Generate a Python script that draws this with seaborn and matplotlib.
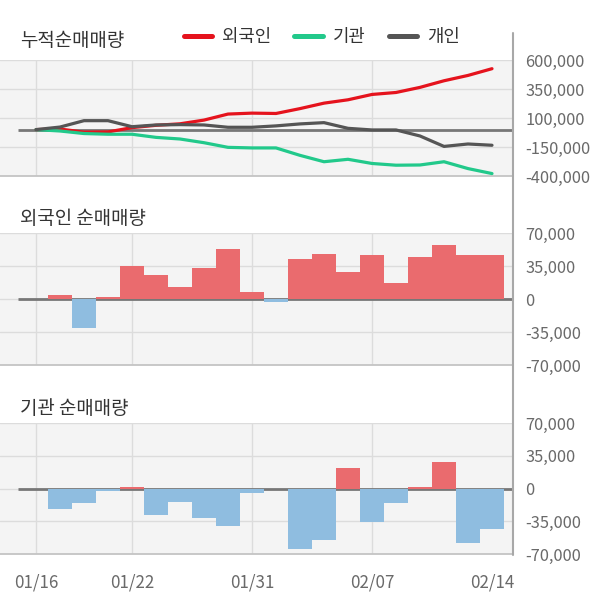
import matplotlib
matplotlib.use("Agg")
import matplotlib.pyplot as plt
import matplotlib.ticker as mticker
from matplotlib.lines import Line2D
import numpy as np
import pandas as pd
import seaborn as sns

# ---------------------------------------------------------------------------
# Data
# ---------------------------------------------------------------------------
DATE_LABELS = ["01/16", "01/22", "01/31", "02/07", "02/14"]
DATE_TICKS = [0, 4, 9, 14, 19]
GRID_POS = [0, 4, 9, 14]

positions = list(range(20))

# cumulative net buying (shares)
cum_foreign = [0, 5000, -22000, -20000, 17000, 37000, 50000, 82000, 134000, 142000,
               139000, 181000, 228000, 257000, 303000, 320000, 364000, 421000, 467000, 525000]
cum_inst = [0, -12000, -34000, -40000, -40000, -67000, -81000, -113000, -153000, -158000,
            -158000, -222000, -277000, -256000, -292000, -307000, -305000, -277000, -336000, -379000]
cum_indiv = [0, 22000, 77000, 77000, 25000, 40000, 43000, 40000, 20000, 20000,
             32000, 49000, 60000, 11000, -3000, -3000, -55000, -145000, -124000, -135000]

# daily net buying, positions 1..19
bar_pos = list(range(1, 20))
daily_foreign = [4500, -30800, 2500, 35000, 25500, 13000, 33000, 53000, 7700, -3500,
                 42000, 48000, 29000, 46500, 17000, 44500, 57000, 46500, 46500]
daily_inst = [-22400, -15000, -2500, 1400, -28700, -14000, -31900, -40000, -4500, 0,
              -64400, -55000, 21400, -36000, -15000, 1400, 28000, -58500, -43400]

TOP_TICKS = [600000, 350000, 100000, -150000, -400000]
BAR_TICKS = [70000, 35000, 0, -35000, -70000]

# ---------------------------------------------------------------------------
# Style
# ---------------------------------------------------------------------------
C = {
    "red": "#e5131d",
    "green": "#22c98b",
    "gray": "#555555",
    "pos": "#ea6b6e",
    "neg": "#8fbde0",
    "bg": "#f4f4f4",
    "grid": "#dcdcdc",
    "zero": "#777777",
    "text": "#333333",
    "tick": "#6a6a6a",
}

sns.set_style("white")
plt.rcParams["font.family"] = ["Noto Sans CJK KR", "DejaVu Sans"]

W, H = 600, 604
fig = plt.figure(figsize=(W / 100, H / 100), dpi=100)


def fy(y):
    return 1 - y / H


def make_ax(top, bottom):
    return fig.add_axes([0, fy(bottom), 513 / W, (bottom - top) / H])


XLIM = (-1.5, 19.875)
fmt = mticker.FuncFormatter(lambda v, _: f"{int(v):,}")


def style_ax(ax, ylim, yticks, show_x=False):
    ax.set_facecolor(C["bg"])
    ax.set_xlim(*XLIM)
    ax.set_ylim(*ylim)
    for s in ["top", "left", "right"]:
        ax.spines[s].set_visible(False)
    ax.spines["bottom"].set_color("#c4c4c4")
    ax.spines["bottom"].set_linewidth(1.3)
    for v in yticks:
        ax.axhline(v, color=C["grid"], lw=1, zorder=0)
    for p in GRID_POS:
        ax.axvline(p, color=C["grid"], lw=1, zorder=0)
    ax.hlines(0, -0.75, XLIM[1], color=C["zero"], lw=2, zorder=1)
    ax.yaxis.tick_right()
    ax.set_yticks(yticks)
    ax.yaxis.set_major_formatter(fmt)
    ax.tick_params(axis="y", length=0, pad=9, labelsize=11.8, labelcolor=C["tick"])
    ax.set_xticks(DATE_TICKS)
    if show_x:
        ax.set_xticklabels(DATE_LABELS)
        ax.tick_params(axis="x", length=0, pad=14, labelsize=12.2, labelcolor=C["tick"])
    else:
        ax.set_xticklabels([])
        ax.tick_params(axis="x", length=0)
    ax.set_xlabel("")
    ax.set_ylabel("")


# ---------------------------------------------------------------------------
# Panel 1 — cumulative lines
# ---------------------------------------------------------------------------
ax1 = make_ax(60, 176)
line_df = pd.DataFrame({
    "pos": positions * 3,
    "val": cum_foreign + cum_inst + cum_indiv,
    "who": ["외국인"] * 20 + ["기관"] * 20 + ["개인"] * 20,
})
sns.lineplot(data=line_df, x="pos", y="val", hue="who",
             palette={"외국인": C["red"], "기관": C["green"], "개인": C["gray"]},
             lw=2.3, legend=False, ax=ax1, zorder=3)
style_ax(ax1, (-400000, 600000), TOP_TICKS)

handles = [Line2D([], [], color=C["red"], lw=3.6),
           Line2D([], [], color=C["green"], lw=3.6),
           Line2D([], [], color=C["gray"], lw=3.6)]
fig.legend(handles, ["외국인", "기관", "개인"], loc="center left",
           bbox_to_anchor=(184 / W, fy(37)), ncol=3, frameon=False,
           fontsize=12.8, handlelength=1.6, handletextpad=0.55, columnspacing=1.3,
           borderpad=0, borderaxespad=0, labelcolor=C["text"])


# ---------------------------------------------------------------------------
# Panels 2, 3 — daily bars
# ---------------------------------------------------------------------------
def bar_panel(ax, values, show_x):
    df = pd.DataFrame({"pos": bar_pos, "val": values})
    df["sign"] = np.where(df["val"] >= 0, "pos", "neg")
    sns.barplot(data=df, x="pos", y="val", hue="sign", native_scale=True,
                palette={"pos": C["pos"], "neg": C["neg"]}, dodge=False,
                saturation=1, width=0.96, errorbar=None, legend=False,
                linewidth=0, ax=ax, zorder=2)
    style_ax(ax, (-70000, 70000), BAR_TICKS, show_x=show_x)


ax2 = make_ax(233, 365)
ax3 = make_ax(423, 554)
bar_panel(ax2, daily_foreign, False)
bar_panel(ax3, daily_inst, True)

# titles
title_kw = dict(fontsize=13.6, color=C["text"], va="center")
fig.text(20 / W, fy(40), "누적순매매량", **title_kw)
fig.text(20 / W, fy(218), "외국인 순매매량", **title_kw)
fig.text(20 / W, fy(409), "기관 순매매량", **title_kw)

# right-hand vertical rule
fig.add_artist(Line2D([513 / W, 513 / W], [fy(33), fy(555)], color="#a8a8a8", lw=1.5))

fig.savefig("out.png", dpi=100, facecolor="white")
